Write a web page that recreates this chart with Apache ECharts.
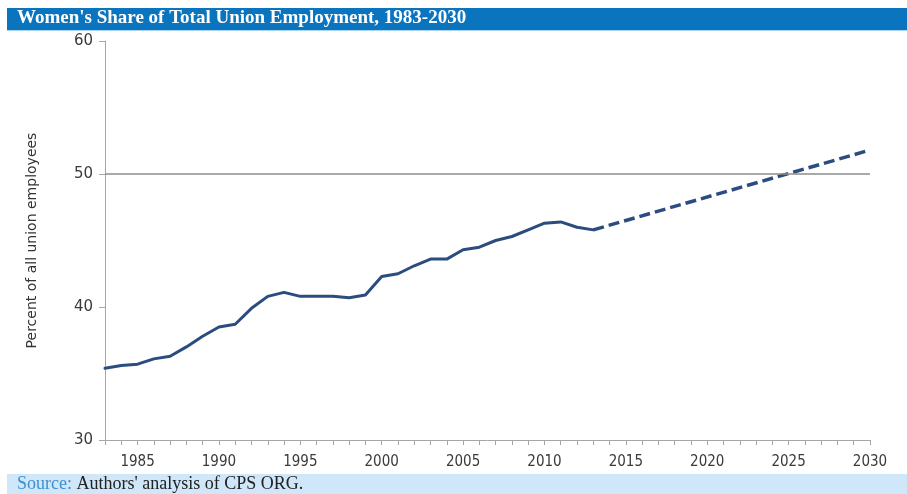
<!DOCTYPE html>
<html>
<head>
<meta charset="utf-8">
<title>Women's Share of Total Union Employment, 1983-2030</title>
<script src="https://cdn.jsdelivr.net/npm/echarts@6/dist/echarts.min.js"></script>
<style>
  html, body { margin: 0; padding: 0; background: #ffffff; }
  #chart { width: 907px; height: 494px; }
</style>
</head>
<body>
<div id="chart"></div>
<script>
// Women's share of all union employees (percent), observed years
const years = [1983, 1984, 1985, 1986, 1987, 1988, 1989, 1990, 1991, 1992,
               1993, 1994, 1995, 1996, 1997, 1998, 1999, 2000, 2001, 2002,
               2003, 2004, 2005, 2006, 2007, 2008, 2009, 2010, 2011, 2012, 2013];
const shares = [35.4, 35.6, 35.7, 36.1, 36.3, 37.0, 37.8, 38.5, 38.7, 39.9,
                40.8, 41.1, 40.8, 40.8, 40.8, 40.7, 40.9, 42.3, 42.5, 43.1,
                43.6, 43.6, 44.3, 44.5, 45.0, 45.3, 45.8, 46.3, 46.4, 46.0, 45.8];

// Linear projection to 2030
const projYears = [2013, 2030];
const projShares = [45.8, 51.8];

// Axis ticks
const yTicks = [30, 40, 50, 60];
const parityLine = 50;

const titleText = "Women's Share of Total Union Employment, 1983-2030";
const sourceLabel = 'Source:';
const sourceText = " Authors' analysis of CPS ORG.";

const lineColor = '#2b4c7e';
const axisGray = '#a6a6a6';

const chart = echarts.init(document.getElementById('chart'), null, { renderer: 'canvas' });

const observed = years.map((y, i) => [y, shares[i]]);
const projected = projYears.map((y, i) => [y, projShares[i]]);

chart.setOption({
  animation: false,
  backgroundColor: '#ffffff',
  grid: { left: 105, right: 37, top: 41, bottom: 54, containLabel: false },
  xAxis: {
    type: 'value',
    min: years[0],
    max: projYears[projYears.length - 1],
    interval: 1,
    axisLine: { show: true, lineStyle: { color: axisGray, width: 1 } },
    axisTick: { show: true, inside: false, length: 5, lineStyle: { color: axisGray } },
    splitLine: { show: false },
    axisLabel: {
      margin: 15,
      color: '#3a3a3a',
      fontFamily: '"Liberation Sans Narrow", "DejaVu Sans Condensed", sans-serif',
      fontSize: 15,
      showMinLabel: true,
      showMaxLabel: true,
      formatter: v => (v % 5 === 0 ? String(v) : '')
    }
  },
  yAxis: {
    type: 'value',
    min: yTicks[0],
    max: yTicks[yTicks.length - 1],
    interval: 10,
    name: 'Percent of all union employees',
    nameLocation: 'middle',
    nameGap: 66,
    nameRotate: 90,
    nameTextStyle: {
      color: '#333333',
      fontFamily: '"DejaVu Sans", Verdana, sans-serif',
      fontSize: 14
    },
    axisLine: { show: true, lineStyle: { color: axisGray, width: 1 } },
    axisTick: { show: true, inside: false, length: 6, lineStyle: { color: axisGray } },
    splitLine: { show: false },
    axisLabel: {
      margin: 12,
      color: '#3a3a3a',
      fontFamily: '"DejaVu Sans", Verdana, sans-serif',
      fontSize: 15
    }
  },
  graphic: [
    {
      type: 'rect', left: 7, top: 8, silent: true,
      shape: { width: 900, height: 22 },
      style: { fill: '#0a74bf' }
    },
    {
      type: 'rect', left: 7, top: 30, silent: true,
      shape: { width: 900, height: 1 },
      style: { fill: '#a9d6f2' }
    },
    {
      type: 'text', left: 17, top: 9, silent: true,
      style: {
        text: titleText,
        fill: '#ffffff',
        font: 'bold 19px "Liberation Serif", "DejaVu Serif", serif'
      }
    },
    {
      type: 'rect', left: 7, top: 474, silent: true,
      shape: { width: 900, height: 20 },
      style: { fill: '#cfe7f8' }
    },
    {
      type: 'text', left: 17, top: 475, silent: true,
      style: {
        rich: {
          s: { fill: '#3d8fcf', font: '18px "Liberation Serif", "DejaVu Serif", serif' },
          t: { fill: '#222222', font: '18px "Liberation Serif", "DejaVu Serif", serif' }
        },
        text: '{s|' + sourceLabel + '}{t|' + sourceText + '}'
      }
    }
  ],
  series: [
    {
      name: 'Observed',
      type: 'line',
      data: observed,
      showSymbol: false,
      symbol: 'none',
      lineStyle: { color: lineColor, width: 3, cap: 'round', join: 'round' },
      markLine: {
        silent: true,
        symbol: ['none', 'none'],
        label: { show: false },
        lineStyle: { color: '#8c8c8c', width: 1.5, type: 'solid' },
        data: [{ yAxis: parityLine }]
      },
      z: 3
    },
    {
      name: 'Projected',
      type: 'line',
      data: projected,
      showSymbol: false,
      symbol: 'none',
      lineStyle: { color: lineColor, width: 3.5, type: [11, 5] },
      z: 3
    }
  ]
});
</script>
</body>
</html>
